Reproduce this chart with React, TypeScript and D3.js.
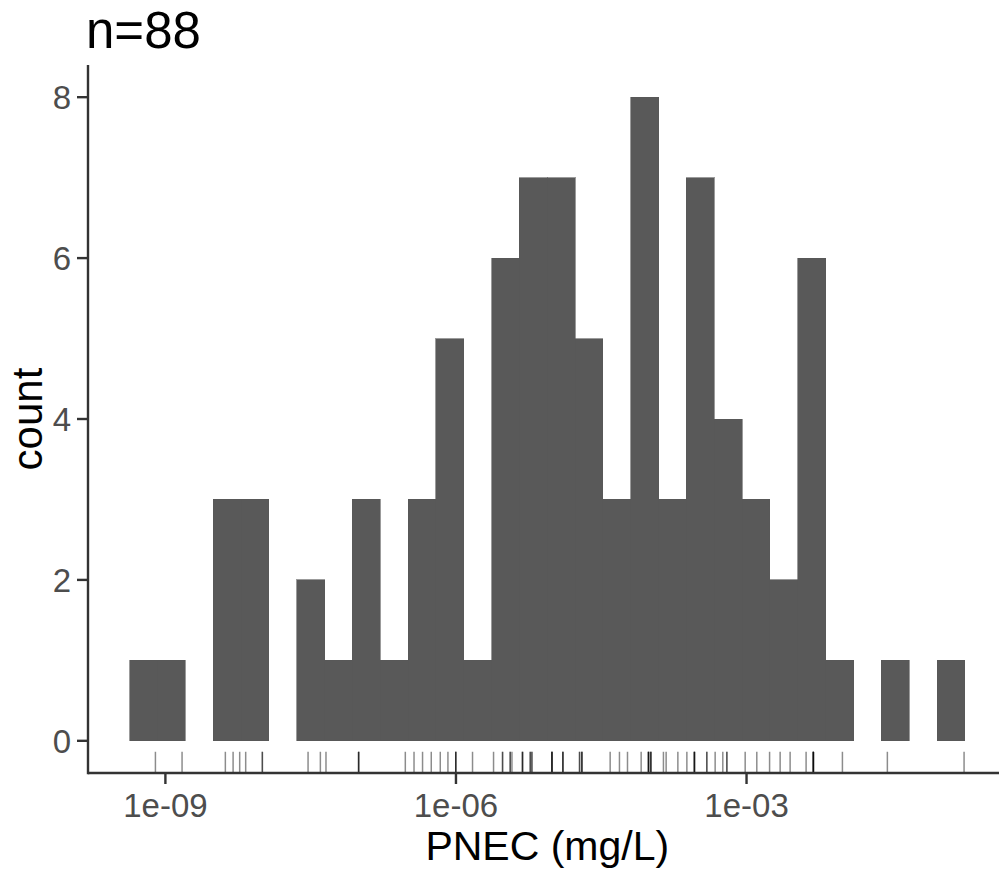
import React from "react";
import * as d3 from "d3";

// Histogram bins (log10 of PNEC), 30 bins
const binStart = -9.368;
const binWidth = 0.2874;
const binCounts = [1, 1, 0, 3, 3, 0, 2, 1, 3, 1, 3, 5, 1, 6, 7, 7, 5, 3, 8, 3, 7, 4, 3, 2, 6, 1, 0, 1, 0, 1];

// Rug values (log10 of PNEC in mg/L)
const rugValues = [
  -9.103, -8.828, -8.381, -8.301, -8.233, -8.171, -7.999, -7.999,
  -7.527, -7.4, -7.342, -7.005, -7.005, -7.005, -6.523, -6.433, -6.345, -6.255,
  -6.162, -6.083, -6.002, -6.002, -6.002, -5.829,
  -5.612, -5.519, -5.519, -5.44, -5.44, -5.422,
  -5.313, -5.313, -5.313, -5.233, -5.233, -5.216, -5.216,
  -5.009, -5.009, -5.009, -5.009, -4.896, -4.896, -4.896,
  -4.724, -4.724, -4.7, -4.7, -4.7,
  -4.408, -4.312, -4.229,
  -4.088, -4.012, -4.012, -4.012, -4.012, -3.988, -3.988, -3.988,
  -3.858, -3.83, -3.709,
  -3.616, -3.538, -3.538, -3.538, -3.538, -3.41, -3.41,
  -3.324, -3.245, -3.203, -3.203,
  -3.014, -2.894, -2.762,
  -2.653, -2.55,
  -2.385, -2.31, -2.31, -2.31, -2.31, -2.31,
  -2.01, -1.546, -0.754,
];

const xTicks = [1e-9, 1e-6, 1e-3];
const xTickLabels = ["1e-09", "1e-06", "1e-03"];
const yTicks = [0, 2, 4, 6, 8];
const titleText = "n=88";
const xTitle = "PNEC (mg/L)";
const yTitle = "count";

export default function App() {
  const W = 999;
  const H = 872;
  const left = 88;
  const top = 65;
  const bottom = 773;
  const binEnd = binStart + binWidth * binCounts.length;
  const span = binEnd - binStart;
  const x = d3
    .scaleLog()
    .domain([Math.pow(10, binStart - 0.05 * span), Math.pow(10, binEnd + 0.05 * span)])
    .range([left, 1006.6]);
  const yMax = 8;
  const y = d3.scaleLinear().domain([-0.05 * yMax, yMax * 1.05]).range([bottom, top]);
  const rugLen = 0.03 * (bottom - top);
  const tickColor = "#333333";
  const textColor = "#4d4d4d";
  const font = "'Liberation Sans', Arial, sans-serif";

  return (
    <svg
      width={W}
      height={H}
      style={{ position: "absolute", left: 0, top: 0, background: "#fff" }}
      fontFamily={font}
    >
      <rect width={W} height={H} fill="#fff" />
      <g shapeRendering="crispEdges">
        {binCounts.map((c, i) =>
          c > 0 ? (
            <rect
              key={i}
              x={x(Math.pow(10, binStart + i * binWidth))}
              width={x(Math.pow(10, binStart + (i + 1) * binWidth)) - x(Math.pow(10, binStart + i * binWidth))}
              y={y(c)}
              height={y(0) - y(c)}
              fill="#595959"
              stroke="#595959"
              strokeWidth={0.6}
            />
          ) : null
        )}
      </g>
      {rugValues.map((v, i) => (
        <line
          key={i}
          x1={x(Math.pow(10, v))}
          x2={x(Math.pow(10, v))}
          y1={bottom}
          y2={bottom - rugLen}
          stroke="#000"
          strokeOpacity={0.45}
          strokeWidth={1.5}
        />
      ))}
      {/* axes */}
      <line x1={left} x2={W} y1={bottom} y2={bottom} stroke={tickColor} strokeWidth={2.4} />
      <line x1={left} x2={left} y1={top} y2={bottom + 1.2} stroke={tickColor} strokeWidth={2.4} />
      {yTicks.map((t) => (
        <g key={t}>
          <line x1={left - 11} x2={left} y1={y(t)} y2={y(t)} stroke={tickColor} strokeWidth={2.4} />
          <text x={left - 17} y={y(t)} dy="0.36em" textAnchor="end" fontSize={33} fill={textColor}>
            {t}
          </text>
        </g>
      ))}
      {xTicks.map((t, i) => (
        <g key={t}>
          <line x1={x(t)} x2={x(t)} y1={bottom} y2={bottom + 11} stroke={tickColor} strokeWidth={2.4} />
          <text x={x(t)} y={817} textAnchor="middle" fontSize={33} fill={textColor}>
            {xTickLabels[i]}
          </text>
        </g>
      ))}
      <text x={(left + 1006.6) / 2} y={860} textAnchor="middle" fontSize={41} fill="#000">
        {xTitle}
      </text>
      <text
        transform={`translate(42, ${(top + bottom) / 2}) rotate(-90)`}
        textAnchor="middle"
        fontSize={42}
        fill="#000"
      >
        {yTitle}
      </text>
      <text x={86} y={48} fontSize={51} fill="#000">
        {titleText}
      </text>
    </svg>
  );
}
